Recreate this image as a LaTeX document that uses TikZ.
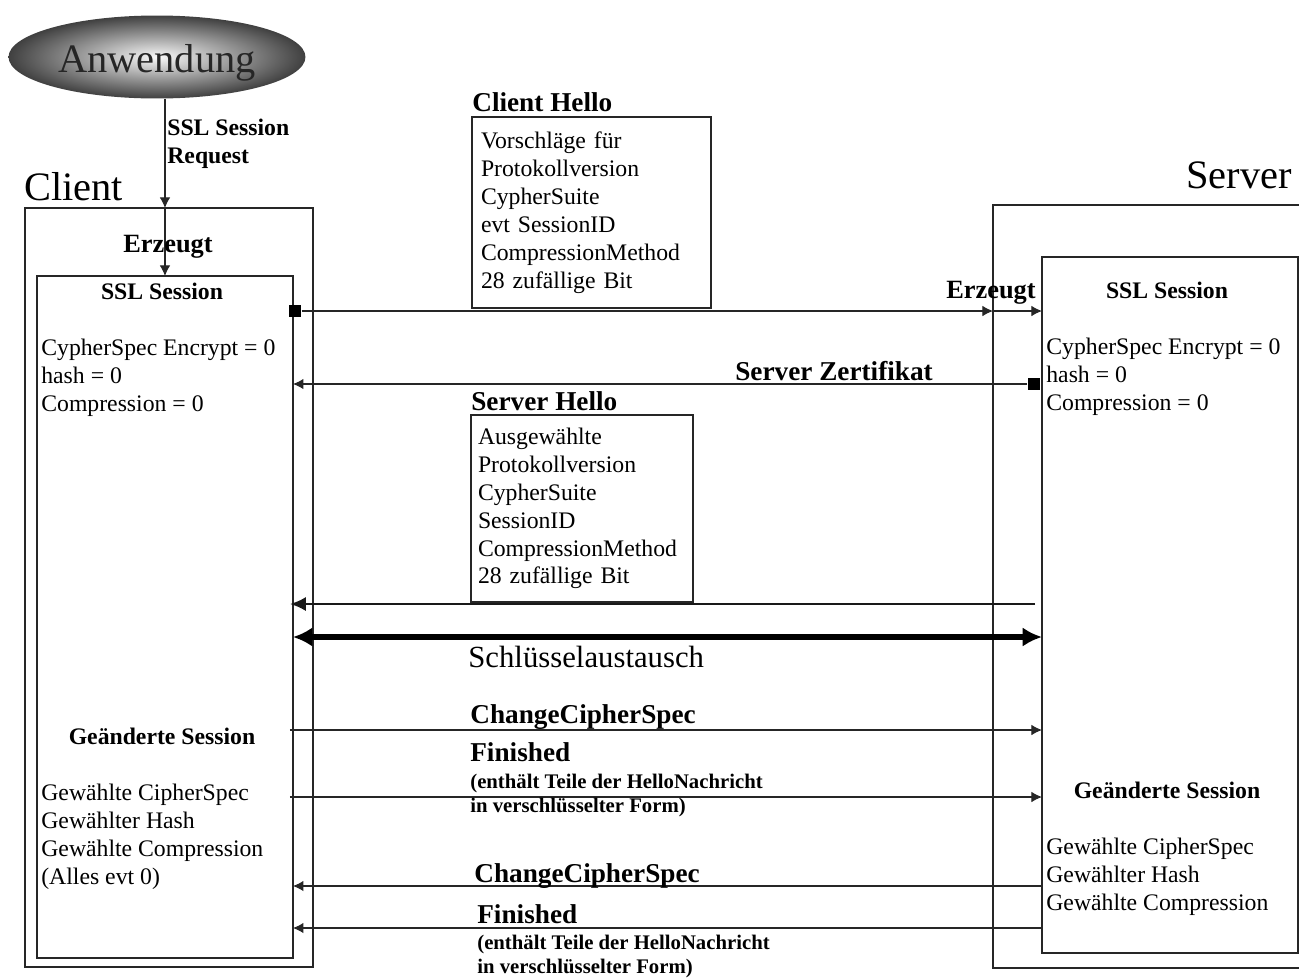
\documentclass[tikz,border=0pt]{standalone}
\usepackage{fontspec}
\setmainfont{Liberation Serif}
\usetikzlibrary{shapes.geometric,arrows.meta}
\tikzset{>={Latex[length=6pt,width=6pt]}}
\tikzset{
  box/.style={draw=black!85, line width=0.8pt, inner sep=0pt, outer sep=0pt, anchor=north west},
  app/.style={ellipse, minimum width=5.94cm, minimum height=1.66cm, inner color=gray!5, outer color=black!75, text=black!85, text height=17.6pt, text depth=0pt, font=\fontsize{23}{27}\selectfont},
  big/.style={font=\fontsize{23}{27}\selectfont, inner sep=0pt},
  msg/.style={font=\fontsize{15.5}{18}\selectfont\bfseries, inner sep=0pt, anchor=base west},
  title/.style={font=\fontsize{13.5}{16}\selectfont\bfseries, inner sep=0pt, anchor=base},
  field/.style={font=\fontsize{13.5}{15.9}\selectfont, align=left, inner sep=0pt, anchor=base west},
  note/.style={font=\fontsize{11.8}{13.6}\selectfont\bfseries, align=left, inner sep=0pt, anchor=base west},
  sq/.style={fill=black, minimum size=0.25cm, inner sep=0pt},
  line/.style={->, line width=0.6pt, black!85},
}
\begin{document}
\begin{tikzpicture}[x=0.02cm, y=-0.02cm]
\useasboundingbox (0,0) rectangle (1299,978);
\clip (0,0) rectangle (1299,978);

% Anwendung
\node[app] (app) at (157,57) {Anwendung};

% Client
\node[big, anchor=base west] (client) at (24,200) {Client};
\node[box, minimum width=5.76cm, minimum height=15.18cm] (cout) at (25,208) {};
\node[box, minimum width=5.12cm, minimum height=13.64cm] (cin) at (37,276) {};

\draw[line] (cin.north |- app.south) -- (cin.north |- cout.north);
\draw[line] (cin.north |- cout.north) -- (cin.north);
% mehrzeilige Knoten: base = letzte Zeile
\node[field, font=\fontsize{13.5}{15.9}\selectfont\bfseries] (req) at (167,163) {SSL Session\\Request};
\node[title, font=\fontsize{15}{17}\selectfont\bfseries] (cerz) at (168,252) {Erzeugt};

\node[title] (csess) at (162,299) {SSL Session};
\node[field] (cfld) at (41,411) {CypherSpec Encrypt = 0\\hash = 0\\Compression = 0};
\node[title] (cneu) at (162,744) {Geänderte Session};
\node[field] (cneufld) at (41,884) {Gewählte CipherSpec\\Gewählter Hash\\Gewählte Compression\\(Alles evt 0)};

% Server
\node[big, anchor=base east] (server) at (1292,188) {Server};
\node[box, minimum width=6.6cm, minimum height=15.26cm] (sout) at (993,205) {};
\node[box, minimum width=5.12cm, minimum height=13.92cm] (sin) at (1042,257) {};

\node[title] (ssess) at (1167,298) {SSL Session};
\node[field] (sfld) at (1046,410) {CypherSpec Encrypt = 0\\hash = 0\\Compression = 0};
\node[title] (sneu) at (1167,798) {Geänderte Session};
\node[field] (sneufld) at (1046,910) {Gewählte CipherSpec\\Gewählter Hash\\Gewählte Compression};

% Hello-Nachrichten
\node[msg] (chello) at (472,111) {Client Hello};
\node[box, minimum width=4.78cm, minimum height=3.82cm, text width=4.42cm, inner xsep=0.18cm, align=left, font=\fontsize{13.5}{15.9}\selectfont] (chbox) at (472,117)
  {Vorschläge für\\Protokollversion\\CypherSuite\\evt SessionID\\CompressionMethod\\28 zufällige Bit};
\node[msg] (shello) at (471,410) {Server Hello};
\node[box, minimum width=4.44cm, minimum height=3.74cm, text width=4.16cm, inner xsep=0.14cm, align=left, font=\fontsize{13.5}{15.9}\selectfont] (shbox) at (471,415)
  {Ausgewählte\\Protokollversion\\CypherSuite\\SessionID\\CompressionMethod\\28 zufällige Bit};

% Nachrichten
\coordinate (y1) at (0,311);
\coordinate (y2) at (0,384);
\coordinate (y3) at (0,604);
\coordinate (y4) at (0,637);
\coordinate (y5) at (0,730);
\coordinate (y6) at (0,797);
\coordinate (y7) at (0,886);
\coordinate (y8) at (0,928);

\node[sq] (csq) at ([xshift=0.04cm]cin.east |- y1) {};
\draw[line] (csq) -- (sout.west |- y1);
\draw[line] (sout.west |- y1) -- (sin.west |- y1);
\node[msg, font=\fontsize{15}{17}\selectfont\bfseries] (serz) at (946,298) {Erzeugt};

\node[sq] (ssq) at ([xshift=-0.16cm]sin.west |- y2) {};
\draw[line] (ssq) -- (cin.east |- y2);
\node[msg] (zert) at (735,380) {Server Zertifikat};

\draw[-{Latex[length=9pt,width=8pt]}, line width=1.4pt, black!90] ([xshift=-0.14cm]sin.west |- y3) -- ([xshift=-0.06cm]cin.east |- y3);

\draw[{Latex[length=11pt,width=11pt]}-{Latex[length=11pt,width=11pt]}, line width=3pt] (cin.east |- y4) -- (sin.west |- y4);
\node[msg, font=\fontsize{17.5}{20}\selectfont] (tausch) at (468,667) {Schlüsselaustausch};

\draw[line] ([xshift=-0.06cm]cin.east |- y5) -- (sin.west |- y5);
\node[msg] (ccs1) at (470,723) {ChangeCipherSpec};
\draw[line] ([xshift=-0.06cm]cin.east |- y6) -- (sin.west |- y6);
\node[msg] (fin1) at (470,761) {Finished};
\node[note] (fin1txt) at (470,812) {(enthält Teile der HelloNachricht\\in verschlüsselter Form)};

\draw[line] (sin.west |- y7) -- (cin.east |- y7);
\node[msg] (ccs2) at (474,882) {ChangeCipherSpec};
\draw[line] (sin.west |- y8) -- (cin.east |- y8);
\node[msg] (fin2) at (477,923) {Finished};
\node[note] (fin2txt) at (477,973) {(enthält Teile der HelloNachricht\\in verschlüsselter Form)};

\end{tikzpicture}
\end{document}
